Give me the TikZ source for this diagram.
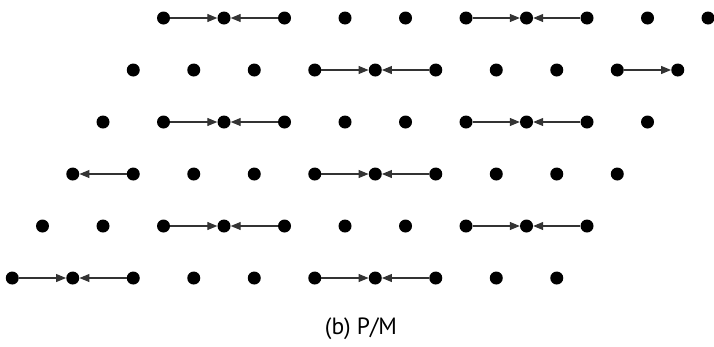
\documentclass[tikz,border=0pt]{standalone}
\usepackage{fontspec}
\setmainfont{PT Sans}
\usetikzlibrary{arrows.meta}
\begin{document}
\begin{tikzpicture}[x=1pt,y=-1pt,
  dot/.style={circle,fill=black,draw=none,minimum size=13pt,inner sep=0pt},
  link/.style={draw=black!80,line width=1.1pt,-{Triangle[length=10pt,width=8pt]},shorten >=0pt,shorten <=0pt}]
\useasboundingbox (0,0) rectangle (714,346);
\foreach \k in {0,...,5}{
  \foreach \i in {0,...,9}{
    \node[dot] (n-\k-\i) at ({163.5-30.25*\k+60.5*\i},{18+52*\k}) {};
  }
}
\foreach \k/\a/\b in {0/0/1,0/2/1,0/5/6,0/7/6,
                      1/3/4,1/5/4,1/8/9,
                      2/1/2,2/3/2,2/6/7,2/8/7,
                      3/1/0,3/4/5,3/6/5,
                      4/2/3,4/4/3,4/7/8,4/9/8,
                      5/0/1,5/2/1,5/5/6,5/7/6}{
  \draw[link] (n-\k-\a) -- (n-\k-\b);
}
\node[font=\fontsize{23.5}{28}\selectfont,inner sep=0pt] (cap) at (361,329) {(b) P/M};
\end{tikzpicture}
\end{document}
